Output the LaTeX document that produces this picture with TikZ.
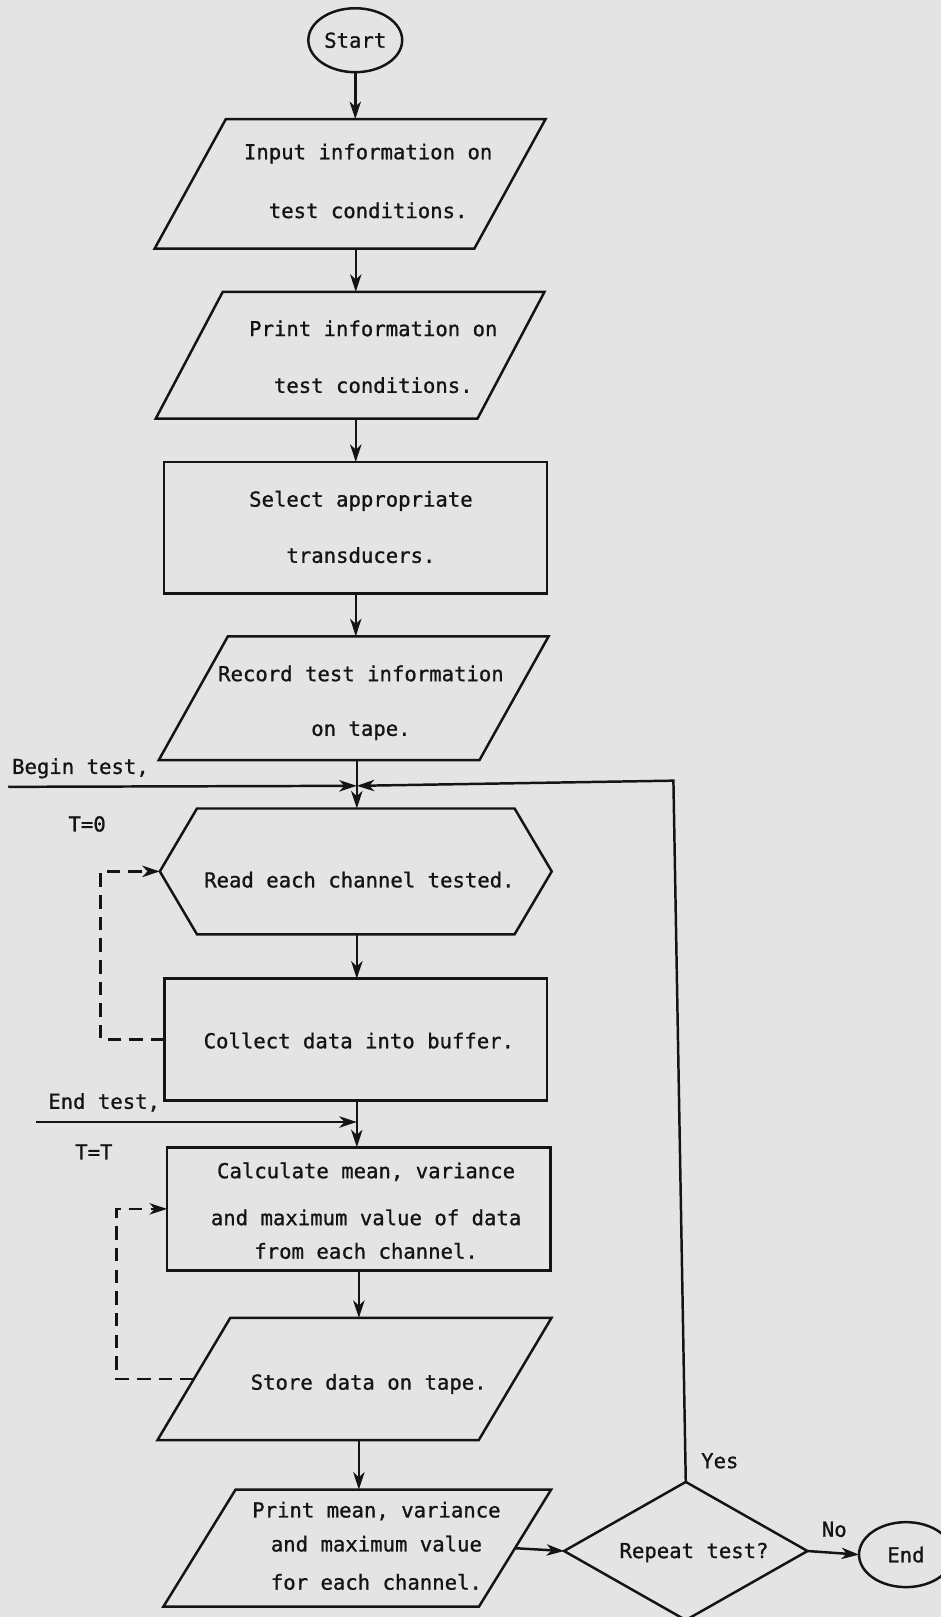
\documentclass[tikz,border=0pt]{standalone}
\usepackage{fontspec}
\newfontfamily\mono[FakeBold=1]{DejaVu Sans Mono}
\usetikzlibrary{shapes.geometric,arrows.meta}
\definecolor{paper}{RGB}{228,228,228}
\definecolor{ink}{RGB}{20,20,20}
\newcommand\drawpara[2]{\draw ([xshift=#2]#1.north west) -- ([xshift=#2]#1.north east) -- ([xshift=-#2]#1.south east) -- ([xshift=-#2]#1.south west) -- cycle;}
\begin{document}
\begin{tikzpicture}[x=1pt,y=-1pt,line width=2.4pt,color=ink,
  lbl/.style={font=\mono\fontsize{20}{24}\selectfont,text=ink,align=center,inner sep=0pt},
  frame/.style={draw=none,inner sep=0pt,outer sep=0pt},
  boxed/.style={draw,inner sep=0pt,outer sep=0pt},
  arr/.style={-{Stealth[length=17pt,width=11pt,inset=5pt]}},
  loopline/.style={dash pattern=on 13pt off 8pt}]
\fill[paper] (0,0) rectangle (912,1568);
\useasboundingbox (0,0) rectangle (912,1568);

% shapes
\node[boxed,ellipse,minimum width=91pt,minimum height=62pt,lbl] (start) at (344.5,39) {Start};
\node[frame,minimum width=310pt,minimum height=125.5pt] (input) at (339.5,178.25) {};
\drawpara{input}{34.5pt}
\node[frame,minimum width=312pt,minimum height=123pt] (print) at (339.5,344.5) {};
\drawpara{print}{32.5pt}
\node[boxed,minimum width=371.5pt,minimum height=127.6pt] (select) at (344.75,511.8) {};
\node[frame,minimum width=311pt,minimum height=120pt] (record) at (343,677) {};
\drawpara{record}{33.5pt}
\node[frame,minimum width=380pt,minimum height=122pt] (read) at (345,845) {};
\draw (read.west) -- ([xshift=36pt]read.north west) -- ([xshift=-36pt]read.north east) -- (read.east) -- ([xshift=-36pt]read.south east) -- ([xshift=36pt]read.south west) -- cycle;
\node[boxed,minimum width=371pt,minimum height=118pt] (collect) at (345,1008) {};
\node[boxed,minimum width=372pt,minimum height=119.5pt] (calc) at (348,1172.25) {};
\node[frame,minimum width=311.5pt,minimum height=118.4pt] (store) at (343.75,1337.2) {};
\drawpara{store}{35.25pt}
\node[frame,minimum width=306pt,minimum height=113.5pt] (pmean) at (346.4,1501.25) {};
\drawpara{pmean}{35pt}
\node[boxed,diamond,minimum width=236pt,minimum height=134pt] (rep) at (665,1504) {};
\node[boxed,ellipse,minimum width=91pt,minimum height=63pt,lbl] (end) at (878.5,1507.5) {End};

% texts
\node[lbl] (tinput) at (357,175.5) {Input information on\\[33pt]test conditions.};
\node[lbl] (tprint) at (362,346) {Print information on\\[31pt]test conditions.};
\node[lbl] (tselect) at (350,511) {Select appropriate\\[30.5pt]transducers.};
\node[lbl] (trecord) at (350,681.5) {Record test information\\[29pt]on tape.};
\node[lbl] (tread) at (348.5,853) {Read each channel tested.};
\node[lbl] (tcollect) at (348,1009) {Collect data into buffer.};
\node[lbl] (tcalc) at (355,1174) {Calculate mean, variance\\[21.5pt]and maximum value of data\\[8.5pt]from each channel.};
\node[lbl] (tstore) at (357.5,1342) {Store data on tape.};
\node[lbl] (tpmean) at (365,1499) {Print mean, variance\\[9pt]and maximum value\\[13pt]for each channel.};
\node[lbl] (trep) at (673,1505.5) {Repeat test?};
\node[lbl] (tbegin) at (78,745) {Begin test,};
\node[lbl] (tt0) at (84.5,799) {T=0};
\node[lbl] (tendtest) at (101,1069) {End test,};
\node[lbl] (ttt) at (91,1117) {T=T};
\node[lbl] (tyes) at (698,1416.5) {Yes};
\node[lbl] (tno) at (809,1483) {No};

% connectors
\coordinate (ax) at (345,0);
\draw[arr] (start.south) -- (start.south |- input.north);
\draw[arr] (input.south -| ax) -- (print.north -| ax);
\draw[arr] (print.south -| ax) -- (select.north -| ax);
\draw[arr] (select.south -| ax) -- (record.north -| ax);
\coordinate (J) at (346,762);
\coordinate (bt) at (8,763);
\coordinate (yc) at (653,757);
\draw[arr] (record.south -| J) -- (read.north -| J);
\draw[arr] (bt) -- (J);
\draw[arr] (rep.north) -- (yc) -- (J);
\draw[arr] (read.south -| J) -- (collect.north -| J);
\coordinate (J2) at (346,1088);
\coordinate (et) at (35,1088);
\draw[arr] (collect.south -| J2) -- (calc.north -| J2);
\draw[arr] (et) -- (J2);
\coordinate (ax2) at (348,0);
\draw[arr] (calc.south -| ax2) -- (store.north -| ax2);
\draw[arr] (store.south -| ax2) -- (pmean.north -| ax2);
\draw[arr,loopline] (collect.west) -- ++(-62,0) |- (read.west);
\draw[arr,loopline] (store.west) -- ++(-75,0) |- (calc.west);
\draw[arr] (pmean.east) -- (rep.west);
\draw[arr] (rep.east) -- (end.west);
\end{tikzpicture}
\end{document}
